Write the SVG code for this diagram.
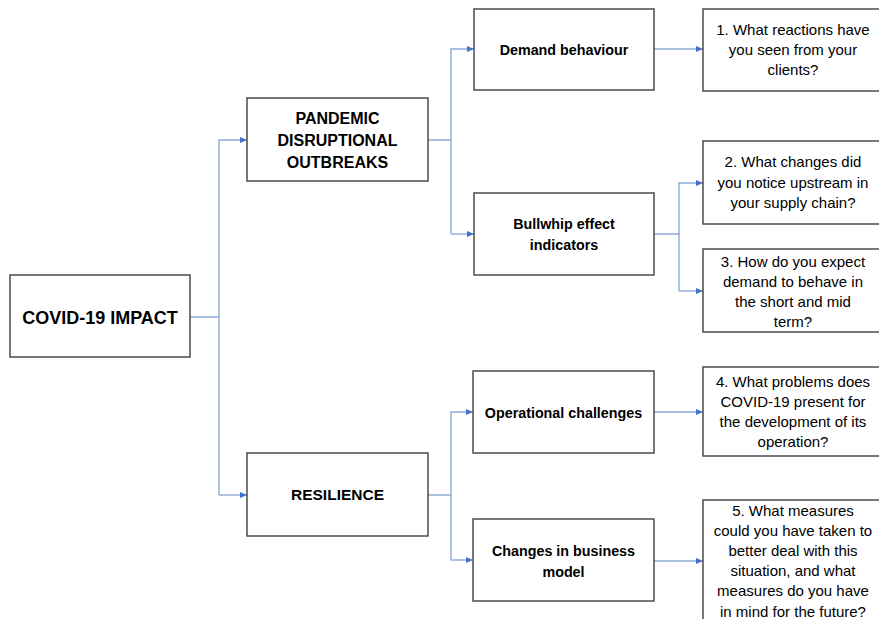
<svg xmlns="http://www.w3.org/2000/svg" width="879" height="619" viewBox="0 0 879 619">
<defs>
<marker id="ah" markerWidth="8" markerHeight="8" refX="7" refY="4" orient="auto" markerUnits="userSpaceOnUse">
<path d="M0,1 L7,4 L0,7 Z" fill="#4472C4"/>
</marker>
<style>
.box{fill:#fff;stroke:#3f3f3f;stroke-width:1.4}
.c{fill:none;stroke:#8eaadb;stroke-width:1.4}
.a{fill:none;stroke:#8eaadb;stroke-width:1.4;marker-end:url(#ah)}
.b{font-family:"Liberation Sans",Arial,sans-serif;font-weight:bold;fill:#000;text-anchor:middle}
.q{font-family:"Liberation Sans",Arial,sans-serif;font-size:15px;fill:#000;text-anchor:middle}
</style>
</defs>
<rect width="879" height="619" fill="#fff"/>
<g id="connectors">
<path class="c" d="M190,317 H219 V495"/>
<path class="a" d="M219,317 V140 H247"/>
<path class="a" d="M219,495 H247"/>
<path class="c" d="M428,140 H451 V234"/>
<path class="a" d="M451,140 V49 H474"/>
<path class="a" d="M451,234 H474"/>
<path class="a" d="M654,49 H703"/>
<path class="c" d="M654,234 H679 V291"/>
<path class="a" d="M679,234 V183 H703"/>
<path class="a" d="M679,291 H703"/>
<path class="c" d="M428,495 H451 V560"/>
<path class="a" d="M451,495 V412 H473"/>
<path class="a" d="M451,560 H473"/>
<path class="a" d="M654,412 H703"/>
<path class="a" d="M654,561 H703"/>
</g>
<g id="covid">
<rect class="box" x="10" y="275" width="180" height="82"/>
<text class="b" x="100" y="324" font-size="18">COVID-19 IMPACT</text>
</g>
<g id="pandemic">
<rect class="box" x="247" y="98" width="181" height="83"/>
<text class="b" x="337.5" y="124" font-size="16">PANDEMIC</text>
<text class="b" x="337.5" y="146" font-size="16">DISRUPTIONAL</text>
<text class="b" x="337.5" y="168" font-size="16">OUTBREAKS</text>
</g>
<g id="resilience">
<rect class="box" x="247" y="453" width="181" height="83"/>
<text class="b" x="337.5" y="500" font-size="15.5">RESILIENCE</text>
</g>
<g id="demand">
<rect class="box" x="474" y="9" width="180" height="81"/>
<text class="b" x="564" y="55" font-size="14.3">Demand behaviour</text>
</g>
<g id="bullwhip">
<rect class="box" x="474" y="193" width="180" height="82"/>
<text class="b" x="564" y="229" font-size="14.3">Bullwhip effect</text>
<text class="b" x="564" y="250" font-size="14.3">indicators</text>
</g>
<g id="operational">
<rect class="box" x="473" y="371" width="181" height="82"/>
<text class="b" x="563.5" y="418" font-size="14.3">Operational challenges</text>
</g>
<g id="changes">
<rect class="box" x="473" y="519" width="181" height="82"/>
<text class="b" x="563.5" y="556" font-size="14.3">Changes in business</text>
<text class="b" x="563.5" y="577" font-size="14.3">model</text>
</g>
<g id="q1">
<rect class="box" x="703" y="9" width="190" height="82"/>
<text class="q" x="793" y="35">1. What reactions have</text>
<text class="q" x="793" y="55">you seen from your</text>
<text class="q" x="793" y="75">clients?</text>
</g>
<g id="q2">
<rect class="box" x="703" y="141" width="190" height="83"/>
<text class="q" x="793" y="167">2. What changes did</text>
<text class="q" x="793" y="188">you notice upstream in</text>
<text class="q" x="793" y="208">your supply chain?</text>
</g>
<g id="q3">
<rect class="box" x="703" y="249" width="190" height="83"/>
<text class="q" x="793" y="267">3. How do you expect</text>
<text class="q" x="793" y="287">demand to behave in</text>
<text class="q" x="793" y="307">the short and mid</text>
<text class="q" x="793" y="327">term?</text>
</g>
<g id="q4">
<rect class="box" x="703" y="367" width="190" height="89"/>
<text class="q" x="793" y="387">4. What problems does</text>
<text class="q" x="793" y="407">COVID-19 present for</text>
<text class="q" x="793" y="427">the development of its</text>
<text class="q" x="793" y="447">operation?</text>
</g>
<g id="q5">
<rect class="box" x="703" y="500" width="190" height="130"/>
<text class="q" x="793" y="516">5. What measures</text>
<text class="q" x="793" y="536">could you have taken to</text>
<text class="q" x="793" y="556">better deal with this</text>
<text class="q" x="793" y="576">situation, and what</text>
<text class="q" x="793" y="596">measures do you have</text>
<text class="q" x="793" y="617">in mind for the future?</text>
</g>
</svg>
